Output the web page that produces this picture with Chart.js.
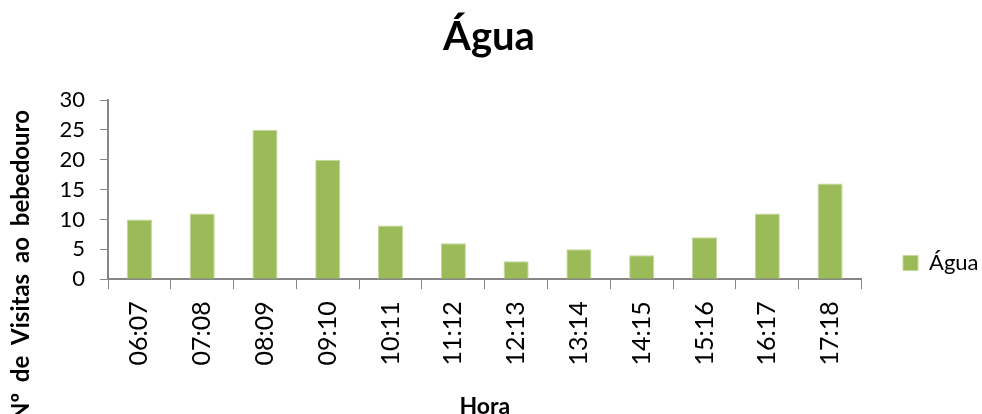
<!DOCTYPE html>
<html>
<head>
<meta charset="utf-8">
<script src="https://cdn.jsdelivr.net/npm/chart.js@4.4.1/dist/chart.umd.min.js"></script>
<style>
    html, body { margin: 0; padding: 0; background: #fff; }
    #wrap { width: 982px; height: 414px; }
</style>
</head>
<body>
<div id="wrap"><canvas id="aguaChart"></canvas></div>
<script>
const categories = ['06:07', '07:08', '08:09', '09:10', '10:11', '11:12', '12:13', '13:14', '14:15', '15:16', '16:17', '17:18'];
const visitas = [10, 11, 25, 20, 9, 6, 3, 5, 4, 7, 11, 16];
const seriesName = 'Água';
const chartTitle = 'Água';
const xTitle = 'Hora';
const yTitle = 'Nº de Visitas ao bebedouro';
const yMin = 0;
const yMax = 30;
const yStep = 5;

const axisColor = '#868686';
const fontFamily = 'Lato, "Open Sans", sans-serif';

// y title is cut off at the left edge in the original, so draw it by hand
const yTitlePlugin = {
    id: 'yTitle',
    afterDraw(chart) {
        let ctx = chart.ctx;
        ctx.save();
        ctx.translate(29, 110);
        ctx.rotate(-Math.PI / 2);
        ctx.textAlign = 'right';
        ctx.textBaseline = 'alphabetic';
        ctx.font = 'bold 24px ' + fontFamily;
        ctx.wordSpacing = '5px';
        ctx.fillStyle = '#000';
        ctx.fillText(yTitle, 0, 0);
        ctx.restore();
    }
};

// move the legend down next to the bars like in the original
const legendShift = {
    id: 'legendShift',
    afterLayout(chart) {
        let lg = chart.legend;
        let dx = 893 - lg.left;
        let dy = 242 - lg.top;
        lg.left += dx;
        lg.right += dx;
        lg.top += dy;
        lg.bottom += dy;
    }
};

let ctx = document.getElementById('aguaChart').getContext('2d');

new Chart(ctx, {
    type: 'bar',
    data: {
        labels: categories,
        datasets: [{
            label: seriesName,
            data: visitas,
            backgroundColor: '#9BBB59',
            borderColor: '#C4D79B',
            borderWidth: 1,
            barPercentage: 0.4,
            categoryPercentage: 1.0
        }]
    },
    options: {
        responsive: true,
        maintainAspectRatio: false,
        animation: false,
        layout: {
            padding: {left: 21, right: 25, top: 0, bottom: 0}
        },
        plugins: {
            title: {
                display: true,
                text: chartTitle,
                color: '#000',
                font: {family: fontFamily, size: 40, weight: 'bold'},
                padding: {top: 13, bottom: 39}
            },
            legend: {
                position: 'right',
                align: 'start',
                labels: {
                    color: '#000',
                    font: {family: fontFamily, size: 22},
                    boxWidth: 15,
                    boxHeight: 15,
                    padding: 10
                }
            },
            tooltip: {enabled: false}
        },
        scales: {
            x: {
                grid: {
                    drawOnChartArea: false,
                    color: axisColor,
                    tickLength: 10,
                    offset: true
                },
                border: {color: axisColor, width: 2},
                ticks: {
                    color: '#000',
                    font: {family: fontFamily, size: 25},
                    minRotation: 90,
                    maxRotation: 90,
                    padding: 12
                },
                title: {
                    display: true,
                    text: xTitle,
                    color: '#000',
                    font: {family: fontFamily, size: 23, weight: 'bold'},
                    padding: {top: 15, bottom: -6}
                }
            },
            y: {
                min: yMin,
                max: yMax,
                afterFit(scale) {
                    scale.width = 87;
                },
                grid: {
                    drawOnChartArea: false,
                    color: axisColor,
                    tickLength: 8
                },
                border: {color: axisColor, width: 2},
                ticks: {
                    stepSize: yStep,
                    autoSkip: false,
                    color: '#000',
                    font: {family: fontFamily, size: 22},
                    padding: 15
                }
            }
        }
    },
    plugins: [yTitlePlugin, legendShift]
});
</script>
</body>
</html>
